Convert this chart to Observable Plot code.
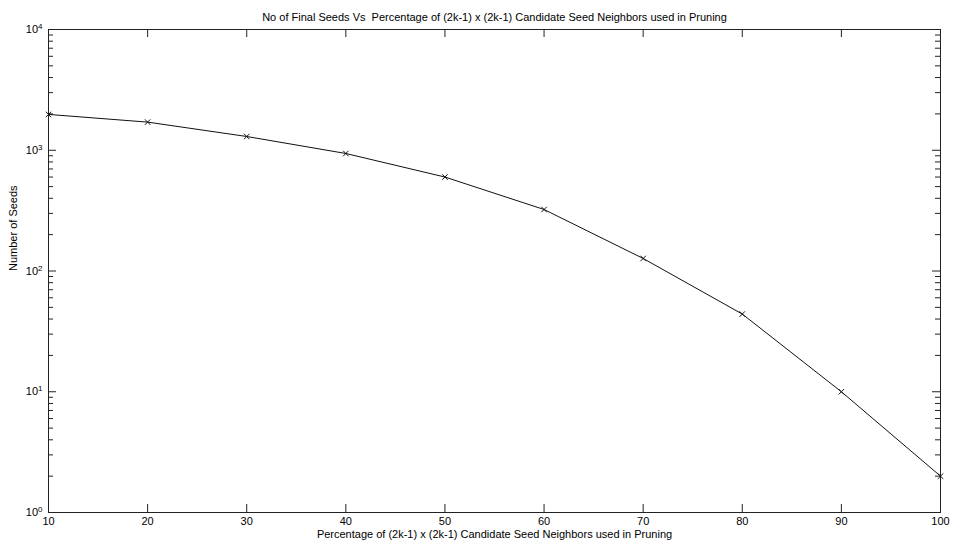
<!DOCTYPE html>
<html><head><meta charset="utf-8">
<script src="https://cdn.jsdelivr.net/npm/d3@7"></script>
<script src="https://cdn.jsdelivr.net/npm/@observablehq/plot@0.6"></script>
<style>
body{margin:0;background:#fff}
#chart svg{font-family:"Liberation Sans",Arial,sans-serif}
</style>
</head><body><div id="chart"></div>
<script>
// Data
const percentages = [10, 20, 30, 40, 50, 60, 70, 80, 90, 100];
const seeds = [1980, 1710, 1300, 940, 600, 323, 127, 44, 10, 2];

// Tick values
const xTicks = [10, 20, 30, 40, 50, 60, 70, 80, 90, 100];
const yMajor = [1, 10, 100, 1000, 10000];
const yMinor = [2, 3, 4, 5, 6, 7, 8, 9,
                20, 30, 40, 50, 60, 70, 80, 90,
                200, 300, 400, 500, 600, 700, 800, 900,
                2000, 3000, 4000, 5000, 6000, 7000, 8000, 9000];

const titleText = "No of Final Seeds Vs  Percentage of (2k-1) x (2k-1) Candidate Seed Neighbors used in Pruning";
const xLabel = "Percentage of (2k-1) x (2k-1) Candidate Seed Neighbors used in Pruning";
const yLabel = "Number of Seeds";

const W = 956, H = 550, ML = 48, MR = 16, MT = 29, MB = 38;
const PW = W - ML - MR, PH = H - MT - MB;
const MAJ = 8, MIN = 5;
const data = percentages.map((p, i) => ({p, s: seeds[i]}));

const chart = Plot.plot({
  width: W,
  height: H,
  marginLeft: ML,
  marginRight: MR,
  marginTop: MT,
  marginBottom: MB,
  style: {fontFamily: "Liberation Sans, Arial, sans-serif", fontSize: "11px", background: "#fff", color: "#000"},
  x: {domain: [10, 100]},
  y: {type: "log", domain: [1, 10000]},
  marks: [
    Plot.axisX(xTicks, {anchor: "bottom", tickSize: 0, tickPadding: 5, label: null}),
    Plot.axisY(yMajor, {anchor: "left", tickSize: 0, tickPadding: 6, label: null,
      tickFormat: d => "10^" + Math.round(Math.log10(d))}),
    // inward ticks (MATLAB style)
    Plot.tickX(xTicks, {x: d => d, insetTop: PH - MAJ, stroke: "#222", strokeWidth: 1}),
    Plot.tickX(xTicks, {x: d => d, insetBottom: PH - MAJ, stroke: "#222", strokeWidth: 1}),
    Plot.tickY(yMajor, {y: d => d, insetRight: PW - MAJ, stroke: "#222", strokeWidth: 1}),
    Plot.tickY(yMajor, {y: d => d, insetLeft: PW - MAJ, stroke: "#222", strokeWidth: 1}),
    Plot.tickY(yMinor, {y: d => d, insetRight: PW - MIN, stroke: "#222", strokeWidth: 1}),
    Plot.tickY(yMinor, {y: d => d, insetLeft: PW - MIN, stroke: "#222", strokeWidth: 1}),
    Plot.frame({stroke: "#222"}),
    Plot.line(data, {x: "p", y: "s", stroke: "#111", strokeWidth: 1}),
    Plot.dot(data, {x: "p", y: "s", symbol: "times", r: 2.6, stroke: "#111", strokeWidth: 1}),
    Plot.text([titleText], {text: d => d, frameAnchor: "top", dy: -16, fontSize: 11}),
    Plot.text([xLabel], {text: d => d, frameAnchor: "bottom", dy: 25, fontSize: 11}),
    Plot.text([yLabel], {text: d => d, frameAnchor: "left", dx: -35, rotate: -90, fontSize: 11})
  ]
});

document.getElementById("chart").appendChild(chart);

// Superscript exponents on the log axis labels
d3.select(chart).selectAll('g[aria-label="y-axis tick label"] text').each(function () {
  const t = this.textContent;
  if (t && t.indexOf("^") >= 0) {
    const [base, exp] = t.split("^");
    const sel = d3.select(this);
    sel.text(base);
    sel.append("tspan").attr("dy", "-0.5em").attr("font-size", "8px").text(exp);
  }
});
// keep double space in title
d3.select(chart).selectAll("text").filter(function () { return this.textContent === titleText; })
  .style("white-space", "pre");
</script>
</body></html>
